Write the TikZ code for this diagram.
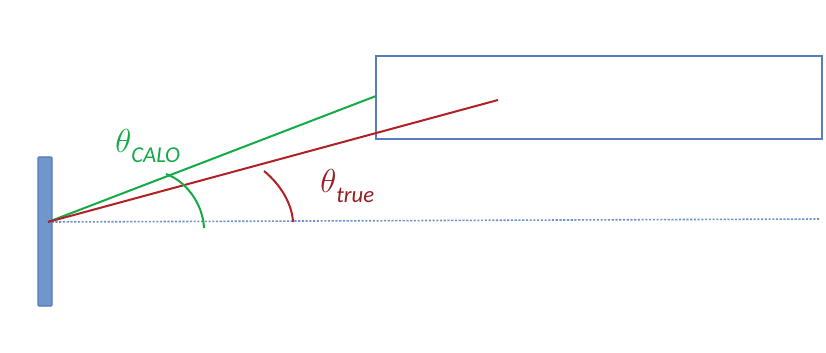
\documentclass[tikz,border=0pt]{standalone}
\usepackage{fontspec}
\setmainfont{Carlito}
\usepackage{xcolor}
\usetikzlibrary{positioning}
\definecolor{cBar}{RGB}{112,150,204}
\definecolor{cBarEdge}{RGB}{86,122,180}
\definecolor{cBox}{RGB}{88,124,192}
\definecolor{cGreen}{RGB}{20,170,70}
\definecolor{cRed}{RGB}{176,32,36}
\definecolor{cRedTxt}{RGB}{150,30,36}
\definecolor{cDot}{RGB}{110,144,200}
\newcommand{\angsub}[1]{{\fontsize{23}{24}\selectfont$\theta$}{\fontsize{17}{18}\selectfont\itshape\raisebox{-7.5pt}{#1}}}

\begin{document}
\begin{tikzpicture}[x=0.75pt,y=-0.75pt,
  bar/.style={draw=cBarEdge, fill=cBar, line width=0.8pt, rounded corners=0.6pt},
  box/.style={draw=cBox, line width=1.2pt},
  ray/.style={line width=1.5pt},
  arc/.style={line width=1.5pt},
  axis/.style={draw=cDot, line width=1.2pt, dash pattern=on 1.6pt off 1.2pt},
  lbl/.style={inner sep=0pt, anchor=base west}]
\useasboundingbox (0,0) rectangle (826,353);
\draw[bar] (38,157) rectangle (52,306);
\draw[box] (376,56) rectangle (822,139);
\coordinate (O) at (48,222);
\coordinate (axisEnd) at (820,219);
\coordinate (caloHit) at (376,96);
\coordinate (trueEnd) at (498,100);
\draw[axis] (O) -- (axisEnd);
\draw[ray, cGreen] (O) -- (caloHit);
\draw[ray, cRed] (O) -- (trueEnd);
% angle arcs
\coordinate (gA) at (166,174); \coordinate (gB) at (204,228);
\draw[arc, cGreen] (gA) .. controls (186,181) and (203,204) .. (gB);
\coordinate (rA) at (264,171); \coordinate (rB) at (293,222);
\draw[arc, cRed] (rA) .. controls (281,185) and (292,204) .. (rB);
\node[lbl, text=cGreen] (thetaCalo) at (115,153) {\angsub{CALO}};
\node[lbl, text=cRedTxt] (thetaTrue) at (320,193) {\angsub{true}};
\end{tikzpicture}
\end{document}
